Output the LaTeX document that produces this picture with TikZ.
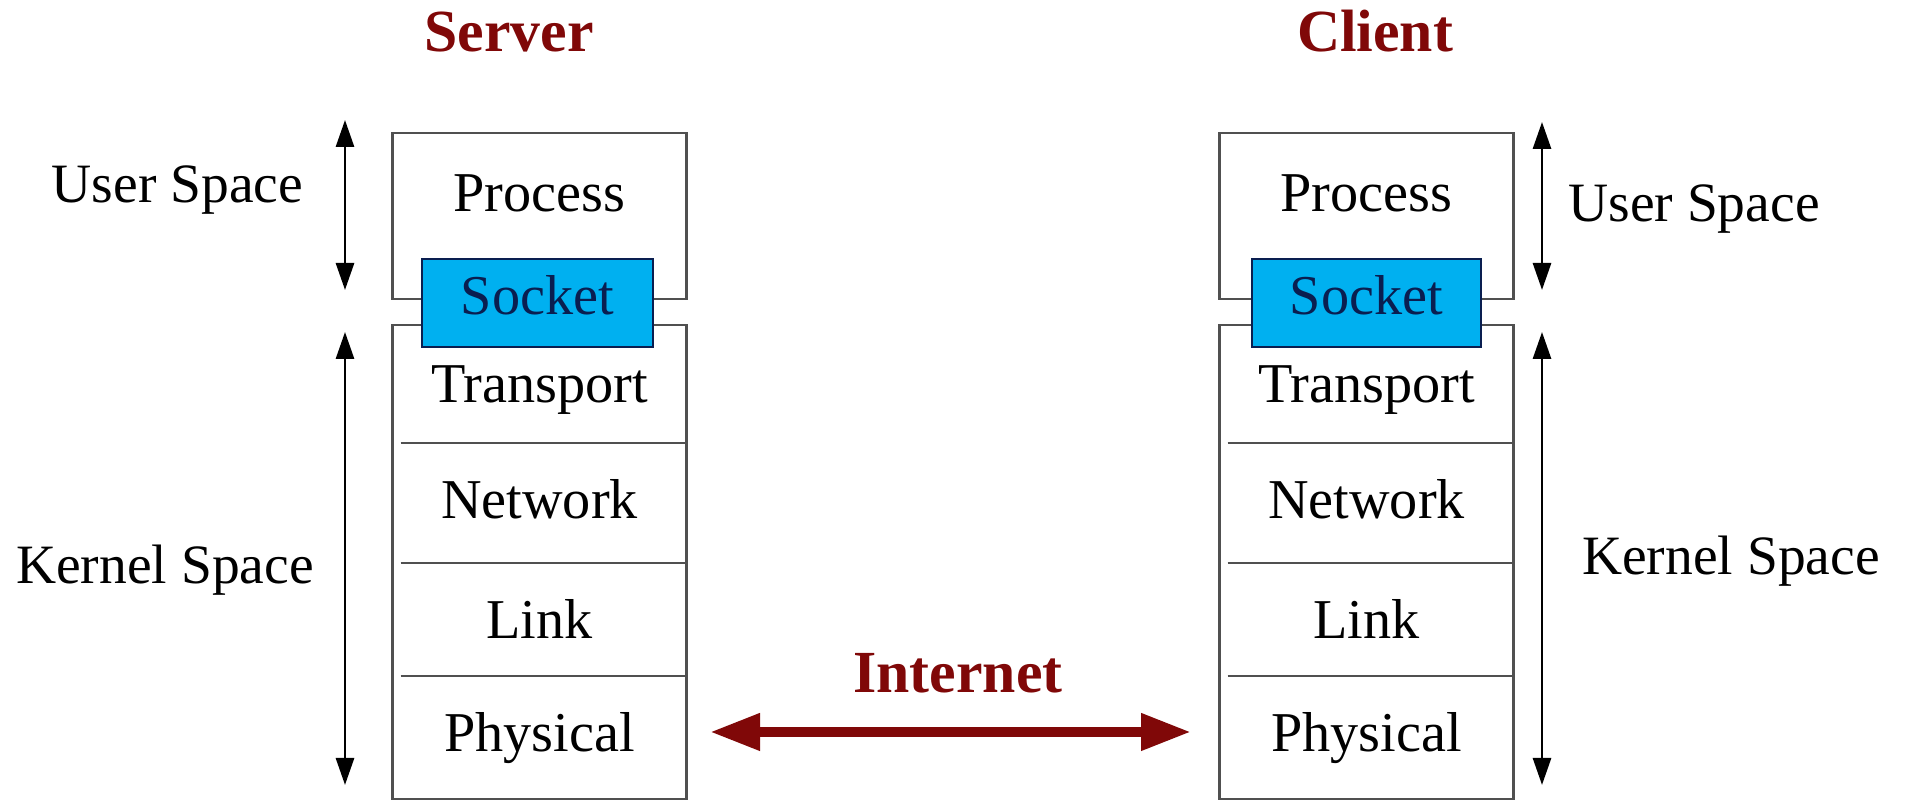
\documentclass[tikz,border=0pt]{standalone}
\usepackage{fontspec}
\setmainfont{Liberation Serif}
\usetikzlibrary{arrows.meta}
\definecolor{darkred}{RGB}{128,8,8}
\definecolor{sockfill}{RGB}{0,176,240}
\definecolor{socktext}{RGB}{10,30,80}
\definecolor{boxline}{RGB}{80,80,80}
\begin{document}
\begin{tikzpicture}[
  box/.style={draw=boxline, line width=0.8pt, minimum width=2.94cm, inner sep=0pt, outer sep=0pt},
  sockbox/.style={draw=socktext, line width=0.8pt, fill=sockfill, minimum height=0.88cm, inner sep=0pt, outer sep=0pt},
  divider/.style={draw=boxline, line width=0.8pt},
  layertext/.style={font=\fontsize{16}{19}\selectfont, anchor=base, inner sep=0pt},
  socktxt/.style={layertext, text=socktext},
  spacetext/.style={font=\fontsize{15.8}{19}\selectfont, anchor=base, inner sep=0pt},
  title/.style={font=\bfseries\fontsize{17}{20}\selectfont, text=darkred, anchor=base, inner sep=0pt},
  spacearrow/.style={line width=0.8pt, {Triangle[length=2.7mm,width=1.8mm]}-{Triangle[length=2.7mm,width=1.8mm]}},
  netarrow/.style={draw=darkred, line width=2.9pt, {Triangle[length=5mm,width=3.5mm]}-{Triangle[length=5mm,width=3.5mm]}}
]
\useasboundingbox (0,0) rectangle (19.05,8.01);

\foreach \p/\x/\sx/\sw in {s/5.395/5.375/2.31, c/13.665/13.665/2.29}{
  % boxes
  \node[box, minimum height=1.66cm] (\p-proc) at (\x,5.85) {};
  \node[box, minimum height=4.74cm] (\p-kern) at (\x,2.39) {};
  % layer dividers
  \coordinate (\p-d1l) at ([xshift=0.08cm]\p-kern.west |- 0,3.58);
  \coordinate (\p-d1r) at (\p-kern.east |- 0,3.58);
  \coordinate (\p-d2l) at ([xshift=0.08cm]\p-kern.west |- 0,2.38);
  \coordinate (\p-d2r) at (\p-kern.east |- 0,2.38);
  \coordinate (\p-d3l) at ([xshift=0.08cm]\p-kern.west |- 0,1.25);
  \coordinate (\p-d3r) at (\p-kern.east |- 0,1.25);
  \draw[divider] (\p-d1l) -- (\p-d1r);
  \draw[divider] (\p-d2l) -- (\p-d2r);
  \draw[divider] (\p-d3l) -- (\p-d3r);
  % socket
  \node[sockbox, minimum width=\sw cm] (\p-sock) at (\sx,4.98) {};
  % texts
  \node[layertext] (\p-proctxt) at (\x,5.89) {Process};
  \node[socktxt] (\p-socktxt) at (\sx,4.86) {Socket};
  \node[layertext] (\p-trans) at (\x,3.98) {Transport};
  \node[layertext] (\p-net) at (\x,2.82) {Network};
  \node[layertext] (\p-link) at (\x,1.62) {Link};
  \node[layertext] (\p-phys) at (\x,0.49) {Physical};
}

% titles
\node[title] (server) at (5.09,7.49) {Server};
\node[title] (client) at (13.75,7.49) {Client};

% space labels
\node[spacetext] (suser) at (1.775,5.98) {User Space};
\node[spacetext] (skern) at (1.65,2.17) {Kernel Space};
\node[spacetext] (cuser) at (16.94,5.79) {User Space};
\node[spacetext] (ckern) at (17.31,2.26) {Kernel Space};

% space arrows
\coordinate (su1) at (3.45,6.81);
\coordinate (su2) at (3.45,5.11);
\coordinate (sk1) at (3.45,4.69);
\coordinate (sk2) at (3.45,0.16);
\coordinate (cu1) at (15.42,6.79);
\coordinate (cu2) at (15.42,5.11);
\coordinate (ck1) at (15.42,4.69);
\coordinate (ck2) at (15.42,0.16);
\draw[spacearrow] (su1) -- (su2);
\draw[spacearrow] (sk1) -- (sk2);
\draw[spacearrow] (cu1) -- (cu2);
\draw[spacearrow] (ck1) -- (ck2);

% internet
\node[title] (internet) at (9.58,1.08) {Internet};
\coordinate (i1) at (7.10,0.69);
\coordinate (i2) at (11.91,0.69);
\draw[netarrow] (i1) -- (i2);
\end{tikzpicture}
\end{document}
